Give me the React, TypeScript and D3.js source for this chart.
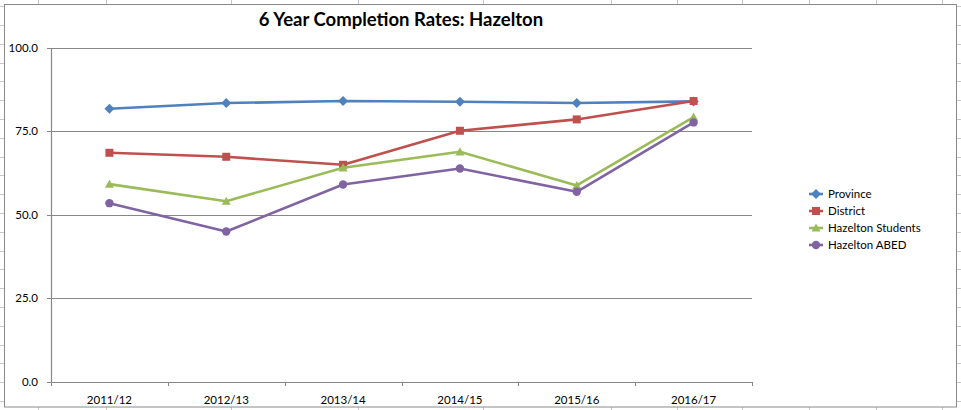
import React from "react";
import * as d3 from "d3";

const categories = ["2011/12", "2012/13", "2013/14", "2014/15", "2015/16", "2016/17"];
const province = [81.8, 83.5, 84.1, 83.9, 83.5, 84.0];
const district = [68.6, 67.4, 65.0, 75.2, 78.6, 84.1];
const hazeltonStudents = [59.2, 54.1, 64.1, 68.9, 58.8, 79.3];
const hazeltonABED = [53.5, 45.0, 59.1, 63.9, 56.9, 77.7];
const yTicks = [0, 25, 50, 75, 100];
const seriesNames = ["Province", "District", "Hazelton Students", "Hazelton ABED"];
const seriesColors = ["#4F81BD", "#C0504D", "#9BBB59", "#8064A2"];
const seriesShapes = ["diamond", "square", "triangle", "circle"];
const seriesValues = [province, district, hazeltonStudents, hazeltonABED];

const sheetCols = [38, 106, 231, 358, 483, 611, 677, 742, 809, 876, 942];

const W = 961;
const H = 410;
const FONT = "Lato, 'Open Sans', sans-serif";

function Marker({ shape, x, y, color }: { shape: string; x: number; y: number; color: string }) {
  if (shape === "diamond") {
    const s = 5;
    return <path d={`M${x},${y - s}L${x + s},${y}L${x},${y + s}L${x - s},${y}Z`} fill={color} />;
  }
  if (shape === "square") {
    const s = 4;
    return <rect x={x - s} y={y - s} width={2 * s} height={2 * s} fill={color} />;
  }
  if (shape === "triangle") {
    const s = 4.5;
    return <path d={`M${x},${y - s}L${x + s},${y + s * 0.8}L${x - s},${y + s * 0.8}Z`} fill={color} />;
  }
  return <circle cx={x} cy={y} r={4.2} fill={color} />;
}

export default function App() {
  const x = d3.scaleBand<string>().domain(categories).range([51, 752]).padding(0);
  const y = d3.scaleLinear().domain([0, 100]).range([381.7, 48]);
  const line = d3
    .line<number>()
    .x((_, i) => (x(categories[i]) as number) + x.bandwidth() / 2)
    .y((d) => y(d));

  const sheetRows = d3.range(-1, 22).map((k) => 25 + 18.8 * k);

  return (
    <svg
      width={W}
      height={H}
      style={{ position: "absolute", left: 0, top: 0, background: "#fff" }}
      fontFamily={FONT}
    >
      {/* spreadsheet background grid */}
      {sheetCols.map((c) => (
        <line key={"c" + c} x1={c + 0.5} x2={c + 0.5} y1={0} y2={H} stroke="#c8c8c8" strokeWidth={1} />
      ))}
      {sheetRows.map((r, i) => (
        <line key={"r" + i} x1={0} x2={W} y1={Math.round(r) + 0.5} y2={Math.round(r) + 0.5} stroke="#c8c8c8" strokeWidth={1} />
      ))}
      {/* chart area */}
      <rect x={4.5} y={4.5} width={952} height={402.5} fill="#fff" stroke="#8a8a8a" strokeWidth={1} />

      {/* title */}
      <text x={401} y={26} textAnchor="middle" fontSize={18.5} fontWeight="bold" fill="#000">
        6 Year Completion Rates: Hazelton
      </text>

      {/* gridlines */}
      {yTicks.map((t) => (
        <g key={"g" + t}>
          <line x1={47} x2={752} y1={Math.round(y(t)) + 0.5} y2={Math.round(y(t)) + 0.5} stroke="#878787" strokeWidth={1.2} />
          <text x={38} y={y(t) + 4} textAnchor="end" fontSize={11.5} fill="#000">
            {d3.format(".1f")(t)}
          </text>
        </g>
      ))}
      {/* y axis line */}
      <line x1={51.5} x2={51.5} y1={48} y2={382} stroke="#878787" strokeWidth={1.2} />
      {/* x ticks */}
      {categories.concat([""]).map((c, i) => {
        const xx = Math.round(51 + i * x.bandwidth()) + 0.5;
        return <line key={"xt" + i} x1={xx} x2={xx} y1={382} y2={386} stroke="#878787" strokeWidth={1} />;
      })}
      {categories.map((c) => (
        <text
          key={"xl" + c}
          x={(x(c) as number) + x.bandwidth() / 2}
          y={404}
          textAnchor="middle"
          fontSize={11.5}
          fill="#000"
        >
          {c}
        </text>
      ))}

      {/* series */}
      {seriesValues.map((vals, si) => (
        <g key={"s" + si}>
          <path d={line(vals) as string} fill="none" stroke={seriesColors[si]} strokeWidth={2.6} strokeLinejoin="round" />
          {vals.map((v, i) => (
            <Marker
              key={i}
              shape={seriesShapes[si]}
              x={(x(categories[i]) as number) + x.bandwidth() / 2}
              y={y(v)}
              color={seriesColors[si]}
            />
          ))}
        </g>
      ))}

      {/* legend */}
      {seriesNames.map((n, i) => {
        const ly = 194 + i * 17;
        return (
          <g key={"l" + n}>
            <line x1={809} x2={823} y1={ly} y2={ly} stroke={seriesColors[i]} strokeWidth={2.6} />
            <Marker shape={seriesShapes[i]} x={816} y={ly} color={seriesColors[i]} />
            <text x={828} y={ly + 4} fontSize={11.5} fill="#000">
              {n}
            </text>
          </g>
        );
      })}
    </svg>
  );
}
